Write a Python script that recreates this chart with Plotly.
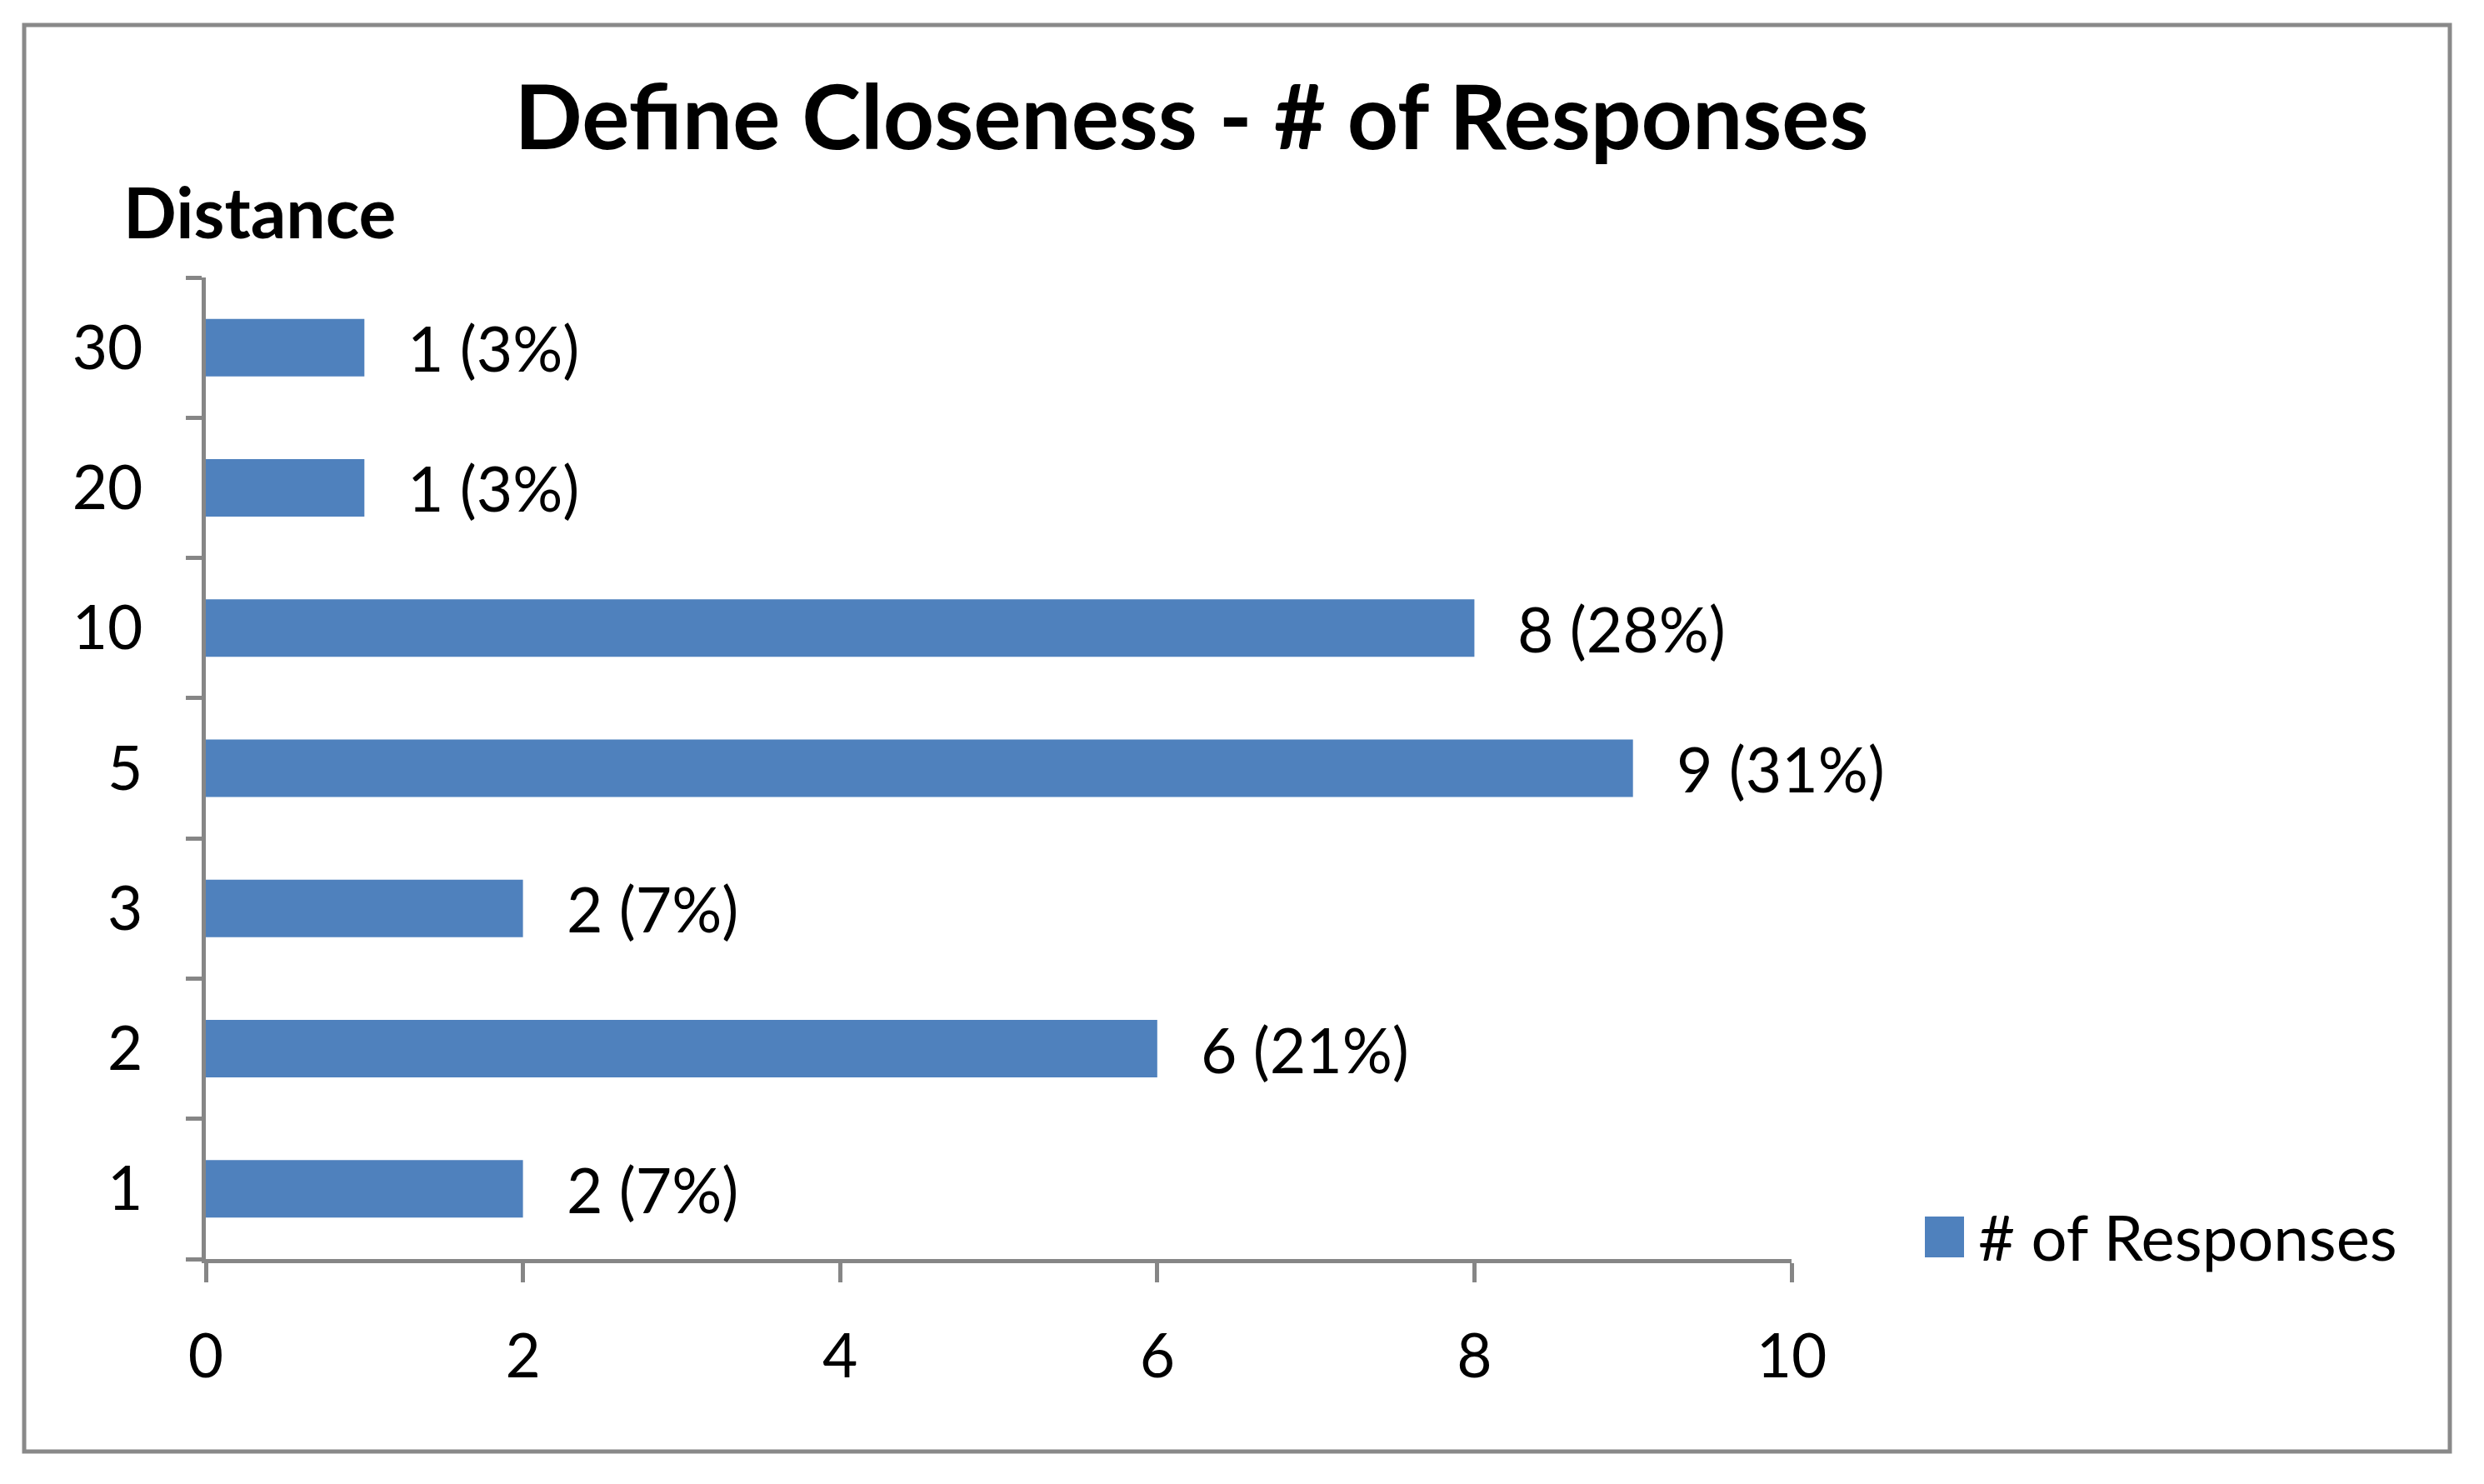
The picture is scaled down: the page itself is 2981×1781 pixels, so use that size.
import plotly.graph_objects as go

# data, bottom to top as drawn
distances = ["1", "2", "3", "5", "10", "20", "30"]
responses = [2, 6, 2, 9, 8, 1, 1]
percents = [7, 21, 7, 31, 28, 3, 3]
x_ticks = [0, 2, 4, 6, 8, 10]

BAR_COLOR = "#4F81BD"
AXIS_GRAY = "#868686"
FONT = "Lato"

# the page body adds an 8px margin round the plot div
PAGE_W, PAGE_H, OFF = 2981, 1781, 8
W, H = PAGE_W - 2 * OFF, PAGE_H - 2 * OFF
# plot area in page pixels
L, R, T, B = 247, 2150, 333, 1511


def px_x(x):
    return (x - L) / (R - L)


def px_y(y):
    return (B - y) / (B - T)


labels = [f"{n} ({p}%)" for n, p in zip(responses, percents)]

fig = go.Figure(
    go.Bar(
        x=responses,
        y=distances,
        orientation="h",
        marker=dict(color=BAR_COLOR, line=dict(width=0)),
        name="# of Responses",
        showlegend=False,
        hoverinfo="x+y",
    )
)

# data labels to the right of each bar (y given as category index)
for i, (n, lab) in enumerate(zip(responses, labels)):
    fig.add_annotation(
        x=n, y=i, text=lab, showarrow=False,
        xanchor="left", yanchor="middle", xshift=50,
        font=dict(family=FONT, size=75, color="black"),
    )

# axis title above the category axis
fig.add_annotation(
    x=px_x(146), y=px_y(253), xref="paper", yref="paper",
    text="Distance", showarrow=False, xanchor="left", yanchor="middle",
    font=dict(family=FONT, size=84, color="black", weight="bold"),
)

# legend drawn by hand so the swatch is as big as in the original
fig.add_shape(
    type="rect", xref="paper", yref="paper",
    x0=px_x(2310), x1=px_x(2357), y0=px_y(1509), y1=px_y(1460),
    fillcolor=BAR_COLOR, line=dict(width=0),
)
fig.add_annotation(
    x=px_x(2372), y=px_y(1483), xref="paper", yref="paper",
    text="# of Responses", showarrow=False, xanchor="left", yanchor="middle",
    font=dict(family=FONT, size=76, color="black"),
)

# outer chart border
fig.add_shape(
    type="rect", xref="paper", yref="paper",
    x0=px_x(29), x1=px_x(2940), y0=px_y(1742), y1=px_y(30),
    line=dict(color="#898989", width=5), fillcolor="rgba(0,0,0,0)",
)

fig.update_layout(
    width=W, height=H,
    margin=dict(l=L - OFF, r=PAGE_W - OFF - R, t=T - OFF, b=PAGE_H - OFF - B),
    paper_bgcolor="white", plot_bgcolor="white",
    bargap=0.59,
    title=dict(
        text="Define Closeness - # of Responses",
        x=(1430 - OFF) / W, xref="container", xanchor="center",
        y=1 - (142 - OFF) / H, yref="container", yanchor="middle",
        font=dict(family=FONT, size=107, color="black", weight="bold"),
    ),
    font=dict(family=FONT, color="black"),
)

fig.update_xaxes(
    range=[0, 10], tickvals=x_ticks, showgrid=False, zeroline=False,
    showline=True, linecolor=AXIS_GRAY, linewidth=5,
    ticks="outside", ticklen=23, tickwidth=5, tickcolor=AXIS_GRAY,
    ticklabelstandoff=26, tickfont=dict(family=FONT, size=73, color="black"),
)
fig.update_yaxes(
    type="category", categoryorder="array", categoryarray=distances,
    range=[-0.5, len(distances) - 0.5], autorange=False,
    showgrid=False, zeroline=False,
    showline=True, linecolor=AXIS_GRAY, linewidth=5,
    ticks="outside", tickson="boundaries", ticklen=19, tickwidth=5,
    tickcolor=AXIS_GRAY, ticklabelstandoff=56,
    tickfont=dict(family=FONT, size=73, color="black"),
)

fig.write_html("out.html")
